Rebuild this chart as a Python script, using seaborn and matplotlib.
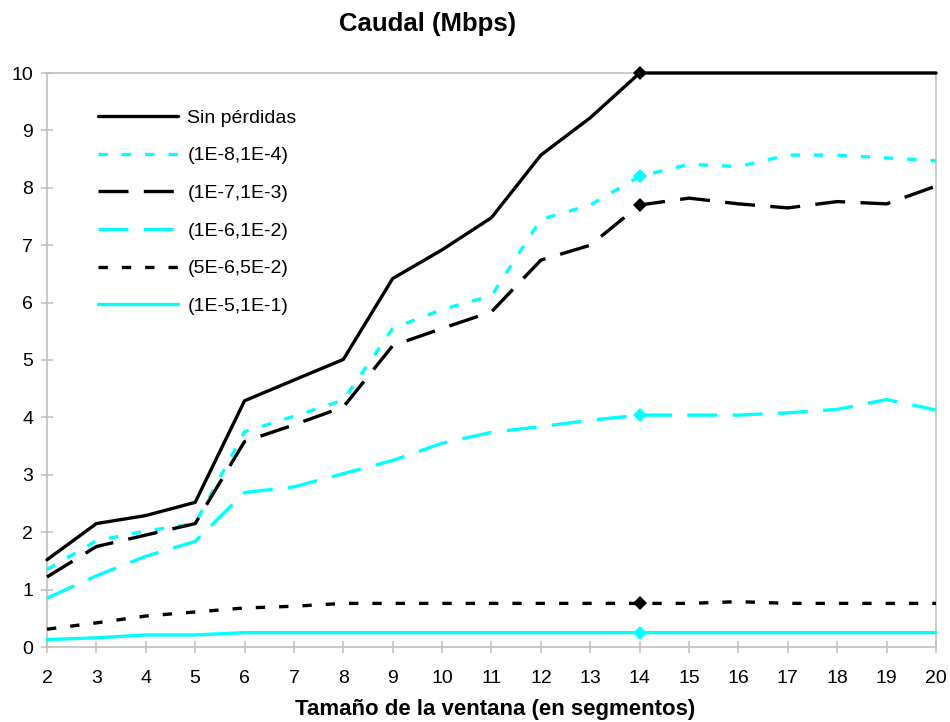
import matplotlib
matplotlib.use("Agg")
import matplotlib.pyplot as plt
import seaborn as sns
import pandas as pd

# tamaño de ventana (segmentos)
ventana = list(range(2, 21))

sin_perdidas = [1.52, 2.15, 2.29, 2.52, 4.29, 4.65, 5.01, 6.42, 6.92, 7.48, 8.57, 9.22, 10.0,
                10.0, 10.0, 10.0, 10.0, 10.0, 10.0]
s_1e8 = [1.35, 1.85, 2.02, 2.15, 3.75, 4.02, 4.30, 5.55, 5.88, 6.12, 7.45, 7.70, 8.20,
         8.41, 8.37, 8.57, 8.57, 8.52, 8.47]
s_1e7 = [1.22, 1.75, 1.95, 2.15, 3.58, 3.87, 4.18, 5.25, 5.55, 5.84, 6.74, 7.00, 7.70,
         7.82, 7.72, 7.65, 7.76, 7.72, 8.03]
s_1e6 = [0.85, 1.24, 1.58, 1.84, 2.69, 2.79, 3.02, 3.25, 3.55, 3.74, 3.84, 3.95, 4.04,
         4.04, 4.04, 4.08, 4.14, 4.31, 4.13]
s_5e6 = [0.31, 0.42, 0.54, 0.61, 0.68, 0.71, 0.76, 0.76, 0.76, 0.76, 0.76, 0.76, 0.76,
         0.76, 0.79, 0.76, 0.76, 0.76, 0.76]
s_1e5 = [0.13, 0.16, 0.21, 0.21, 0.25, 0.25, 0.25, 0.25, 0.25, 0.25, 0.25, 0.25, 0.25,
         0.25, 0.25, 0.25, 0.25, 0.25, 0.25]

etiquetas = ["Sin pérdidas", "(1E-8,1E-4)", "(1E-7,1E-3)", "(1E-6,1E-2)", "(5E-6,5E-2)", "(1E-5,1E-1)"]
series = [sin_perdidas, s_1e8, s_1e7, s_1e6, s_5e6, s_1e5]

cyan = "#00ffff"
colores = ["black", cyan, "black", cyan, "black", cyan]
estilos = ["-", (0, (2.8, 4.2)), (0, (9, 4.6)), (0, (9, 4.6)), (0, (2.8, 4.2)), "-"]

sns.set_style("white")
plt.rcParams["font.family"] = ["Liberation Sans", "DejaVu Sans"]
plt.rcParams["text.color"] = "black"

fig = plt.figure(figsize=(9.5, 7.22), dpi=100)
ax = fig.add_axes([47 / 950, 1 - 647 / 722, 889 / 950, 574 / 722])

marca = ventana.index(14)
for vals, lab, col, ls in zip(series, etiquetas, colores, estilos):
    df = pd.DataFrame({"ventana": ventana, "caudal": vals})
    sns.lineplot(data=df, x="ventana", y="caudal", ax=ax, color=col, linewidth=2.4,
                 linestyle=ls, label=lab, marker="D", markersize=7, markevery=[marca],
                 markeredgewidth=0, clip_on=False, zorder=3)

ax.set_xlim(2, 20)
ax.set_ylim(0, 10)
ax.set_xticks(ventana)
ax.set_yticks(range(0, 11))
ax.set_xlabel("")
ax.set_ylabel("")
for s in ax.spines.values():
    s.set_color("#c0c0c0")
    s.set_linewidth(1.2)
ax.tick_params(axis="both", direction="inout", color="#c0c0c0", width=1.1, labelsize=14,
               labelcolor="black")
ax.tick_params(axis="y", length=8, pad=6, left=True)
ax.tick_params(axis="x", length=9, pad=12, bottom=True)

# leyenda sin marcadores
handles, labels = ax.get_legend_handles_labels()
leg = ax.legend(handles, labels, loc="upper left", bbox_to_anchor=(0.0574, 0.937),
                frameon=False, fontsize=14, handlelength=4.1, handletextpad=0.5,
                labelspacing=1.03, borderpad=0, borderaxespad=0, labelcolor="black")
for h in leg.legend_handles:
    h.set_marker("")

fig.text(428 / 950, 1 - 24 / 722, "Caudal (Mbps)", ha="center", va="center",
         fontsize=18.5, fontweight="bold", color="black")
fig.text(495 / 950, 1 - 710 / 722, "Tamaño de la ventana (en segmentos)", ha="center",
         va="center", fontsize=16, fontweight="bold", color="black")

fig.savefig("out.png", dpi=100)
